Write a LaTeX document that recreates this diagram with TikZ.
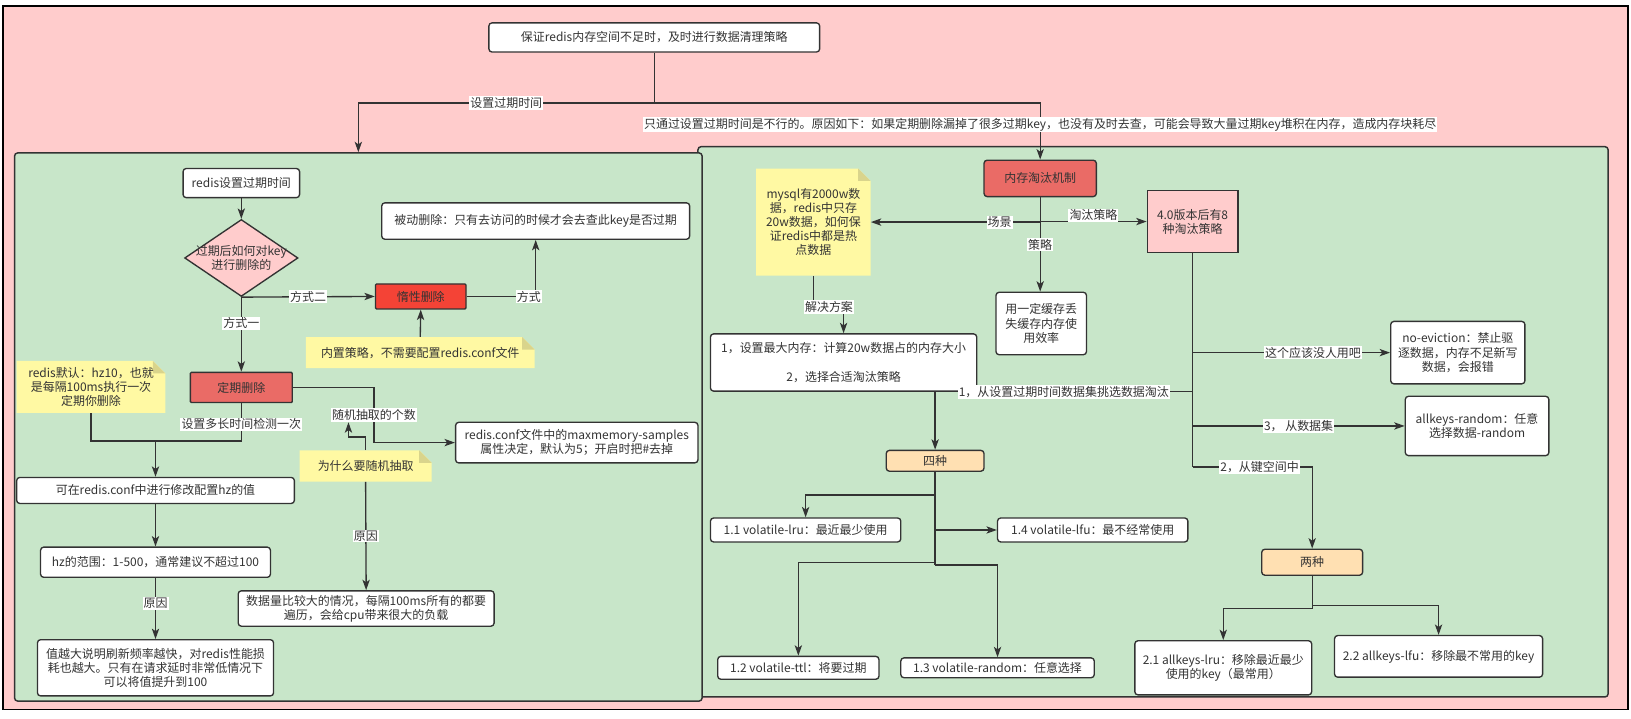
\documentclass[tikz,border=0pt]{standalone}
\usepackage{fontspec}
\setmainfont{Noto Sans CJK SC}
\usetikzlibrary{shapes.geometric,arrows.meta,calc}
\definecolor{pinkbg}{HTML}{FFCCCC}
\definecolor{greenbg}{HTML}{C8E6C9}
\definecolor{notefill}{HTML}{FFF9A3}
\definecolor{foldfill}{HTML}{D9D48C}
\definecolor{redA}{HTML}{F44336}
\definecolor{redB}{HTML}{EA6B66}
\definecolor{orangeA}{HTML}{FFE0B2}
\definecolor{lc}{HTML}{333333}
\definecolor{tc}{HTML}{333333}
\newcommand\myfs{\fontsize{11.5}{13.6}\selectfont}
\tikzset{
 box/.style={draw=lc, line width=1.3pt, rounded corners=3pt, fill=white, text=tc, align=center, inner sep=2pt, font=\myfs},
 notetext/.style={text=tc, align=center, inner sep=2pt, font=\myfs},
 lab/.style={fill=white, text=tc, inner sep=1pt, font=\myfs},
 ln/.style={draw=lc, line width=1.3pt},
 arr/.style={ln, -{Stealth[length=10pt,width=7pt,inset=2.5pt]}},
 container/.style={draw=lc, line width=1.4pt, rounded corners=3pt, inner sep=0pt},
}
\newcommand\mynote[6]{%
  \fill[notefill] ({#2-#4/2},{#3-#5/2}) -- ({#2+#4/2-12},{#3-#5/2}) -- ({#2+#4/2},{#3-#5/2+12}) -- ({#2+#4/2},{#3+#5/2}) -- ({#2-#4/2},{#3+#5/2}) -- cycle;
  \fill[foldfill] ({#2+#4/2-12},{#3-#5/2}) -- ({#2+#4/2-12},{#3-#5/2+12}) -- ({#2+#4/2},{#3-#5/2+12}) -- cycle;
  \node[notetext, minimum width=#4pt, minimum height=#5pt] (#1) at (#2,#3) {#6};
}
\begin{document}
\begin{tikzpicture}[x=1pt,y=-1pt]
\useasboundingbox (0,0) rectangle (1568,691);
\fill[white] (0,0) rectangle (1568,691);
% containers
\node[draw=black, line width=1.5pt, fill=pinkbg, minimum width=1562pt, minimum height=676pt, inner sep=0pt] (outer) at (784,344) {};
\node[container, fill=greenbg, minimum width=875pt, minimum height=529pt] (rightbox) at (1108.5,405.5) {};
\node[container, fill=greenbg, minimum width=661pt, minimum height=527pt] (leftbox) at (344.5,410.5) {};

% top
\node[box, minimum width=318pt, minimum height=28pt] (top) at (629,36) {保证redis内存空间不足时，及时进行数据清理策略};

% left part
\node[box, minimum width=112pt, minimum height=28pt] (redisset) at (232,176) {redis设置过期时间};
\node[diamond, draw=lc, line width=1.3pt, fill=pinkbg, minimum width=109pt, minimum height=74pt, inner sep=0pt] (diamond) at (232,248) {};
\node[notetext] (dtext) at (diamond.center) {过期后如何对key\\进行删除的};
\node[box, minimum width=296pt, minimum height=35pt] (passive) at (515,212.5) {被动删除：只有去访问的时候才会去查此key是否过期};
\node[box, fill=redA, minimum width=87pt, minimum height=24pt, rounded corners=1pt] (lazy) at (404.5,285) {惰性删除};
\mynote{note1}{404}{339}{220}{30}{内置策略，不需要配置redis.conf文件}
\node[box, fill=redB, minimum width=98pt, minimum height=29pt, rounded corners=1pt] (periodic) at (232,372.5) {定期删除};
\mynote{note2}{87.5}{372}{143}{50}{redis默认：hz10，也就\\是每隔100ms执行一次\\定期你删除}
\node[box, minimum width=233pt, minimum height=39pt] (samples) at (554.5,425.5) {redis.conf文件中的maxmemory-samples\\属性决定，默认为5；开启时把\#去掉};
\mynote{note3}{351.5}{448}{127}{30}{为什么要随机抽取}
\node[box, minimum width=267pt, minimum height=25pt] (hzconf) at (149.5,471.5) {可在redis.conf中进行修改配置hz的值};
\node[box, minimum width=221pt, minimum height=29pt] (hzrange) at (149.5,540.5) {hz的范围：1-500，通常建议不超过100};
\node[box, minimum width=227pt, minimum height=54pt] (hzbig) at (149.5,642) {值越大说明刷新频率越快，对redis性能损\\耗也越大。只有在请求延时非常低情况下\\可以将值提升到100};
\node[box, minimum width=246pt, minimum height=34pt] (bigdata) at (352,585) {数据量比较大的情况，每隔100ms所有的都要\\遍历，会给cpu带来很大的负载};

% right part
\node[box, fill=redB, minimum width=108pt, minimum height=35pt] (mem) at (1000,171.5) {内存淘汰机制};
\mynote{mysql}{782}{213.5}{110}{103}{mysql有2000w数\\据，redis中只存\\20w数据，如何保\\证redis中都是热\\点数据}
\node[box, fill=pinkbg, rounded corners=0pt, minimum width=87pt, minimum height=60pt] (v40) at (1146.5,213) {4.0版本后有8\\种淘汰策略};
\node[box, minimum width=87pt, minimum height=60pt] (cache) at (1001,311) {用一定缓存丢\\失缓存内存使\\用效率};
\node[box, minimum width=256pt, minimum height=55pt] (plan) at (811,348.5) {1，设置最大内存：计算20w数据占的内存大小\\[13.6pt]2，选择合适淘汰策略};
\node[box, fill=orangeA, minimum width=94pt, minimum height=20pt] (four) at (899,443) {四种};
\node[box, minimum width=129pt, minimum height=60pt] (noev) at (1401.5,339) {no-eviction：禁止驱\\逐数据，内存不足新写\\数据，会报错};
\node[box, minimum width=138pt, minimum height=57pt] (arand) at (1420,409.5) {allkeys-random：任意\\选择数据-random};
\node[box, fill=orangeA, minimum width=97pt, minimum height=25pt] (two) at (1261.5,540.5) {两种};
\node[box, minimum width=183pt, minimum height=23pt] (v11) at (774.5,509.5) {1.1 volatile-lru：最近最少使用};
\node[box, minimum width=183pt, minimum height=23pt] (v14) at (1050.5,509.5) {1.4 volatile-lfu：最不经常使用};
\node[box, minimum width=155pt, minimum height=22pt] (v12) at (767.5,642) {1.2 volatile-ttl：将要过期};
\node[box, minimum width=186pt, minimum height=19pt] (v13) at (959,642) {1.3 volatile-random：任意选择};
\node[box, minimum width=170pt, minimum height=52pt] (a21) at (1176,642) {2.1 allkeys-lru：移除最近最少\\使用的key（最常用）};
\node[box, minimum width=200pt, minimum height=40pt] (a22) at (1383,631) {2.2 allkeys-lfu：移除最不常用的key};

% top connectors
\coordinate (jt) at (top.south |- 0,99);
\draw[ln] (top.south) -- (jt);
\draw[arr] (jt) -| node[lab,pos=0.25]{设置过期时间} (leftbox.north);
\draw[arr] (jt) -| node[lab,pos=0.69]{只通过设置过期时间是不行的。原因如下：如果定期删除漏掉了很多过期key，也没有及时去查，可能会导致大量过期key堆积在内存，造成内存块耗尽} (mem.north);

% left connectors
\draw[arr] (redisset.south) -- (diamond.north);
\draw[arr] (diamond.south) -- node[lab]{方式二} (lazy.west);
\draw[arr] (diamond.south) -- node[lab,pos=0.35]{方式一} (periodic.north);
\draw[arr] (lazy.east) -| node[lab,pos=0.45]{方式} (passive.south);
\draw[arr] (note1.north) -- (lazy.south);
\draw[arr] (periodic.east) -| ($(periodic.east)!.5!(samples.west)$) node[lab] (rl) {随机抽取的个数} |- (samples.west);
\coordinate (b3) at (335,420);
\draw[arr] (note3.north) |- (b3) -- (b3 |- rl.south);
\draw[arr] (note3.south) -- node[lab]{原因} (bigdata.north);
\coordinate (j1) at (hzconf.north |- 0,424);
\draw[ln] (note2.south) |- (j1);
\draw[arr] (periodic.south) |- node[lab,pos=0.28]{设置多长时间检测一次} (j1) -- (hzconf.north);
\draw[arr] (hzconf.south) -- (hzrange.north);
\draw[arr] (hzrange.south) -- node[lab,pos=0.42]{原因} (hzbig.north);

% right connectors
\draw[arr] (mem.south) |- node[lab,pos=0.62]{场景} (mysql.east);
\draw[arr] (mem.south) |- node[lab,pos=0.75,yshift=6pt]{淘汰策略} (v40.west);
\draw[arr] (mem.south) -- node[lab]{策略} (mem.south |- cache.north);
\draw[arr] (mysql.south) -- ++(0,30) -| (plan.north);
\node[lab] (lsol) at ($(mysql.south)+(15,30)$) {解决方案};

\draw[ln] (v40.south) -- (v40.south |- 0,449);
\draw[arr] (v40.south |- noev.west) -- node[lab,pos=0.61]{这个应该没人用吧} (noev.west);
\draw[arr] (v40.south |- plan.south) -| node[lab,pos=0.25]{1，从设置过期时间数据集挑选数据淘汰} (four.north);
\draw[arr] (v40.south |- arand.west) -- node[lab]{3， 从数据集} (arand.west);
\draw[arr] (v40.south |- 0,449) -| node[lab,pos=0.28]{2，从键空间中} (two.north);

\draw[ln] (four.south) -- (four.south |- 0,543);
\draw[arr] (four.south |- 0,476) -| (v11.north);
\draw[arr] (four.south |- v14.west) -- (v14.west);
\draw[arr] (four.south |- 0,541) -| (v12.north);
\draw[arr] (four.south |- 0,543) -| (v13.north);

\draw[ln] (two.south) -- (two.south |- 0,585);
\draw[arr] (two.south |- 0,585) -| (a21.north);
\draw[arr] (two.south |- 0,582) -| (a22.north);
\end{tikzpicture}
\end{document}
